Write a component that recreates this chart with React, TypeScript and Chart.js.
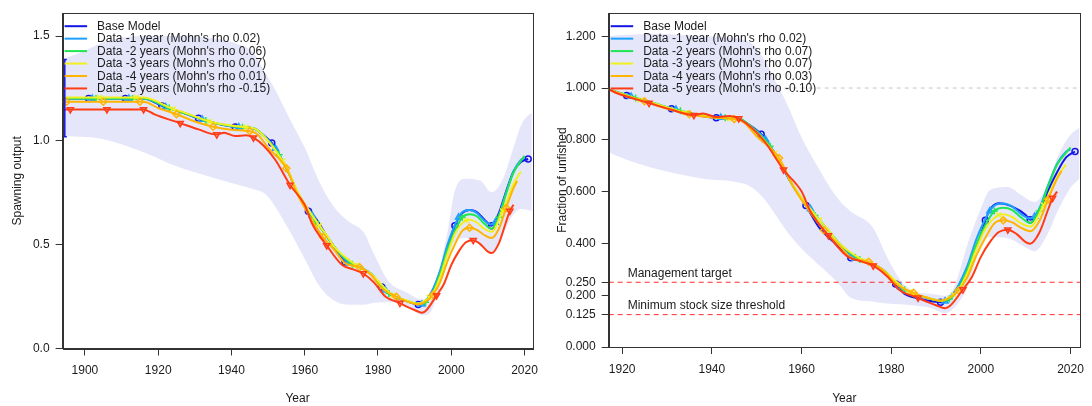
import React, { useEffect, useRef } from "react";
import { Chart, registerables } from "chart.js";
Chart.register(...registerables);

// ---------- colours & labels ----------
const SERIES_COLORS = ["#1414E6", "#1EA0FF", "#1EE650", "#F0F01E", "#FFB400", "#FF3C14"];
const SERIES_POINT_STYLES = ["circle", "triangle", "cross", "crossRot", "rectRot", "triangle"];
const SERIES_POINT_ROTATIONS = [0, 0, 0, 0, 0, 180];
const SERIES_POINT_RADII = [3, 3.5, 3.5, 3.5, 3.5, 3.5];
const LEFT_LEGEND = [
  "Base Model",
  "Data -1 year (Mohn's rho 0.02)",
  "Data -2 years (Mohn's rho 0.06)",
  "Data -3 years (Mohn's rho 0.07)",
  "Data -4 years (Mohn's rho 0.01)",
  "Data -5 years (Mohn's rho -0.15)",
];
const RIGHT_LEGEND = [
  "Base Model",
  "Data -1 year (Mohn's rho 0.02)",
  "Data -2 years (Mohn's rho 0.07)",
  "Data -3 years (Mohn's rho 0.07)",
  "Data -4 years (Mohn's rho 0.03)",
  "Data -5 years (Mohn's rho -0.10)",
];
const BAND_COLOR = "#E6E6FB";

// ---------- axes ----------
const LEFT_X_TICKS = [1900, 1920, 1940, 1960, 1980, 2000, 2020];
const RIGHT_X_TICKS = [1920, 1940, 1960, 1980, 2000, 2020];
const LEFT_Y_TICKS = [0, 0.5, 1.0, 1.5];
const LEFT_Y_LABELS = ["0.0", "0.5", "1.0", "1.5"];
const RIGHT_Y_TICKS = [0, 0.125, 0.2, 0.25, 0.4, 0.6, 0.8, 1.0, 1.2];
const RIGHT_Y_LABELS = ["0.000", "0.125", "0.200", "0.250", "0.400", "0.600", "0.800", "1.000", "1.200"];

// ---------- left panel: spawning output ----------
const L_BASE_YEARS = [1894, 1901, 1911, 1916, 1921, 1926, 1931, 1936, 1941, 1946,
  1948, 1951, 1953, 1956, 1958, 1961, 1963, 1966, 1968, 1971,
  1973, 1975, 1978, 1981, 1983, 1985, 1988, 1991, 1993, 1995,
  1997, 1999, 2001, 2003, 2005, 2007, 2009, 2011, 2013, 2015,
  2017, 2019, 2021];
const L_BASE_VALUES = [1.20, 1.20, 1.20, 1.20, 1.165, 1.137, 1.105, 1.08, 1.064, 1.058,
  1.035, 0.987, 0.93, 0.83, 0.75, 0.659, 0.625, 0.54, 0.49, 0.415,
  0.405, 0.391, 0.36, 0.295, 0.264, 0.245, 0.227, 0.211, 0.225, 0.28,
  0.37, 0.49, 0.59, 0.65, 0.665, 0.655, 0.62, 0.59, 0.65, 0.755,
  0.85, 0.895, 0.91];
const L_BASE_MARKERS = [1901, 1911, 1921, 1931, 1941, 1951, 1961, 1971, 1981, 1991, 2001, 2011, 2021];

const L_R1_YEARS = [1894, 1902, 1912, 1916, 1922, 1926, 1932, 1936, 1942, 1946,
  1948, 1952, 1956, 1958, 1962, 1966, 1968, 1972, 1975, 1978,
  1982, 1985, 1988, 1992, 1993, 1995, 1997, 1999, 2002, 2003,
  2005, 2007, 2009, 2011, 2012, 2013, 2015, 2017, 2019, 2020];
const L_R1_VALUES = [1.20, 1.20, 1.20, 1.20, 1.16, 1.137, 1.10, 1.08, 1.063, 1.058,
  1.035, 0.96, 0.83, 0.75, 0.64, 0.54, 0.49, 0.41, 0.391, 0.36,
  0.28, 0.245, 0.227, 0.212, 0.228, 0.285, 0.375, 0.50, 0.63, 0.655,
  0.665, 0.65, 0.615, 0.595, 0.605, 0.64, 0.75, 0.85, 0.905, 0.915];
const L_R1_MARKERS = [1902, 1912, 1922, 1932, 1942, 1952, 1962, 1972, 1982, 1992, 2002, 2012];

const L_R2_YEARS = [1894, 1903, 1913, 1916, 1923, 1926, 1933, 1936, 1943, 1946,
  1948, 1953, 1956, 1958, 1963, 1966, 1968, 1973, 1975, 1978,
  1983, 1985, 1988, 1991, 1993, 1995, 1997, 1999, 2001, 2003,
  2005, 2007, 2009, 2011, 2013, 2015, 2017, 2019, 2020];
const L_R2_VALUES = [1.20, 1.20, 1.20, 1.20, 1.155, 1.137, 1.095, 1.08, 1.062, 1.058,
  1.035, 0.93, 0.83, 0.75, 0.61, 0.54, 0.49, 0.405, 0.391, 0.36,
  0.264, 0.247, 0.228, 0.213, 0.222, 0.27, 0.36, 0.475, 0.565, 0.63,
  0.645, 0.635, 0.60, 0.575, 0.63, 0.745, 0.845, 0.90, 0.925];
const L_R2_MARKERS = [1903, 1913, 1923, 1933, 1943, 1953, 1963, 1973, 1983, 1993, 2003, 2013];

const L_R3_YEARS = [1894, 1904, 1914, 1916, 1924, 1926, 1934, 1936, 1944, 1946,
  1948, 1954, 1956, 1958, 1964, 1966, 1968, 1974, 1978, 1984,
  1988, 1991, 1994, 1995, 1997, 1999, 2001, 2004, 2005, 2007,
  2009, 2011, 2014, 2015, 2017, 2019];
const L_R3_VALUES = [1.205, 1.205, 1.205, 1.205, 1.15, 1.14, 1.09, 1.082, 1.062, 1.058,
  1.035, 0.9, 0.835, 0.755, 0.59, 0.545, 0.49, 0.40, 0.36, 0.255,
  0.23, 0.216, 0.245, 0.265, 0.345, 0.455, 0.55, 0.615, 0.618, 0.605,
  0.575, 0.56, 0.66, 0.70, 0.79, 0.85];
const L_R3_MARKERS = [1904, 1914, 1924, 1934, 1944, 1954, 1964, 1974, 1984, 1994, 2004, 2014];

const L_R4_YEARS = [1894, 1895, 1905, 1915, 1916, 1920, 1925, 1930, 1935, 1940,
  1945, 1947, 1950, 1955, 1958, 1961, 1965, 1968, 1971, 1975,
  1978, 1981, 1985, 1988, 1991, 1993, 1995, 1997, 1999, 2001,
  2003, 2005, 2007, 2009, 2011, 2013, 2015, 2017, 2018];
const L_R4_VALUES = [1.185, 1.185, 1.185, 1.185, 1.185, 1.155, 1.125, 1.09, 1.065, 1.05,
  1.043, 1.03, 0.965, 0.865, 0.74, 0.645, 0.535, 0.475, 0.41, 0.39,
  0.355, 0.29, 0.248, 0.225, 0.212, 0.225, 0.258, 0.32, 0.42, 0.5,
  0.565, 0.58, 0.57, 0.545, 0.53, 0.575, 0.675, 0.77, 0.805];
const L_R4_MARKERS = [1895, 1905, 1915, 1925, 1935, 1945, 1955, 1965, 1975, 1985, 1995, 2005, 2015];

const L_R5_YEARS = [1894, 1896, 1906, 1916, 1919, 1926, 1931, 1936, 1938, 1941,
  1944, 1946, 1949, 1952, 1956, 1960, 1962, 1966, 1970, 1974,
  1976, 1979, 1982, 1986, 1988, 1990, 1992, 1993, 1996, 1998,
  2000, 2002, 2004, 2006, 2008, 2010, 2011, 2013, 2015, 2016,
  2017];
const L_R5_VALUES = [1.148, 1.148, 1.148, 1.148, 1.124, 1.082, 1.052, 1.027, 1.036, 1.02,
  1.024, 1.012, 0.97, 0.905, 0.785, 0.69, 0.60, 0.495, 0.405, 0.375,
  0.36, 0.315, 0.25, 0.218, 0.2, 0.185, 0.172, 0.18, 0.255, 0.31,
  0.40, 0.465, 0.51, 0.52, 0.50, 0.465, 0.458, 0.505, 0.61, 0.66,
  0.69];
const L_R5_MARKERS = [1896, 1906, 1916, 1926, 1936, 1946, 1956, 1966, 1976, 1986, 1996, 2006, 2016];

const L_BAND_YEARS = [1894, 1900, 1905, 1915, 1925, 1935, 1942, 1946, 1949, 1952,
  1956, 1960, 1964, 1968, 1972, 1976, 1979, 1983, 1988, 1992,
  1994, 1996, 1999, 2001, 2004, 2008, 2011, 2014, 2017, 2019,
  2021, 2022];
const L_BAND_UPPER = [1.39, 1.43, 1.47, 1.50, 1.50, 1.49, 1.46, 1.42, 1.33, 1.24,
  1.10, 0.965, 0.80, 0.68, 0.61, 0.56, 0.45, 0.32, 0.268, 0.235,
  0.255, 0.34, 0.56, 0.76, 0.815, 0.805, 0.75, 0.81, 0.965, 1.07,
  1.12, 1.13];
const L_BAND_LOWER = [1.02, 1.015, 1.005, 0.95, 0.875, 0.82, 0.785, 0.765, 0.745, 0.68,
  0.56, 0.43, 0.30, 0.23, 0.21, 0.21, 0.22, 0.222, 0.2, 0.16,
  0.168, 0.245, 0.42, 0.51, 0.53, 0.495, 0.455, 0.545, 0.645, 0.67,
  0.665, 0.66];

const L_VIRGIN_YEAR = 1894.5;
const L_VIRGIN_LOW = 1.017;
const L_VIRGIN_HIGH = 1.388;

// ---------- right panel: fraction of unfished ----------
const R_BASE_YEARS = [1917, 1921, 1926, 1931, 1936, 1941, 1946, 1948, 1951, 1953,
  1955, 1957, 1961, 1964, 1967, 1971, 1974, 1977, 1979, 1981,
  1983, 1985, 1988, 1991, 1993, 1995, 1998, 2000, 2001, 2002,
  2004, 2007, 2010, 2011, 2013, 2015, 2017, 2019, 2021];
const R_BASE_VALUES = [0.995, 0.971, 0.943, 0.92, 0.898, 0.885, 0.879, 0.862, 0.822, 0.776,
  0.72, 0.655, 0.546, 0.46, 0.408, 0.345, 0.33, 0.31, 0.28, 0.243,
  0.205, 0.192, 0.18, 0.173, 0.185, 0.235, 0.35, 0.434, 0.489, 0.53,
  0.555, 0.542, 0.51, 0.491, 0.523, 0.605, 0.675, 0.732, 0.755];
const R_BASE_MARKERS = [1921, 1931, 1941, 1951, 1961, 1971, 1981, 1991, 2001, 2011, 2021];

const R_R1_YEARS = [1917, 1922, 1926, 1932, 1936, 1942, 1946, 1948, 1952, 1956,
  1958, 1962, 1966, 1968, 1972, 1975, 1978, 1982, 1985, 1988,
  1992, 1993, 1995, 1997, 1999, 2002, 2003, 2005, 2007, 2009,
  2011, 2012, 2013, 2015, 2017, 2019, 2020];
const R_R1_VALUES = [0.995, 0.967, 0.947, 0.917, 0.9, 0.886, 0.882, 0.862, 0.8, 0.692,
  0.625, 0.533, 0.45, 0.408, 0.342, 0.326, 0.3, 0.233, 0.204, 0.189,
  0.177, 0.19, 0.238, 0.313, 0.417, 0.525, 0.546, 0.554, 0.542, 0.513,
  0.496, 0.504, 0.533, 0.625, 0.708, 0.754, 0.763];
const R_R1_MARKERS = [1922, 1932, 1942, 1952, 1962, 1972, 1982, 1992, 2002, 2012];

const R_R2_YEARS = [1917, 1923, 1926, 1933, 1936, 1943, 1946, 1948, 1953, 1956,
  1958, 1963, 1966, 1968, 1973, 1975, 1978, 1983, 1985, 1988,
  1991, 1993, 1995, 1997, 1999, 2001, 2003, 2005, 2007, 2009,
  2011, 2013, 2015, 2017, 2019, 2020];
const R_R2_VALUES = [0.995, 0.962, 0.947, 0.912, 0.9, 0.885, 0.882, 0.862, 0.775, 0.692,
  0.625, 0.508, 0.45, 0.408, 0.338, 0.326, 0.3, 0.221, 0.206, 0.19,
  0.178, 0.185, 0.225, 0.3, 0.396, 0.471, 0.525, 0.538, 0.529, 0.5,
  0.479, 0.525, 0.621, 0.704, 0.75, 0.771];
const R_R2_MARKERS = [1923, 1933, 1943, 1953, 1963, 1973, 1983, 1993, 2003, 2013];

const R_R3_YEARS = [1917, 1924, 1926, 1934, 1936, 1944, 1946, 1948, 1954, 1956,
  1958, 1964, 1966, 1968, 1974, 1978, 1984, 1988, 1991, 1994,
  1995, 1997, 1999, 2001, 2004, 2005, 2007, 2009, 2011, 2014,
  2015, 2017, 2019];
const R_R3_VALUES = [0.995, 0.954, 0.946, 0.905, 0.898, 0.881, 0.878, 0.859, 0.747, 0.693,
  0.627, 0.49, 0.452, 0.407, 0.332, 0.299, 0.212, 0.191, 0.179, 0.203,
  0.22, 0.286, 0.378, 0.456, 0.51, 0.513, 0.502, 0.477, 0.465, 0.548,
  0.581, 0.656, 0.705];
const R_R3_MARKERS = [1924, 1934, 1944, 1954, 1964, 1974, 1984, 1994, 2004, 2014];

const R_R4_YEARS = [1917, 1920, 1925, 1930, 1935, 1940, 1945, 1947, 1950, 1955,
  1958, 1961, 1965, 1968, 1971, 1975, 1978, 1981, 1985, 1988,
  1991, 1993, 1995, 1997, 1999, 2001, 2003, 2005, 2007, 2009,
  2011, 2013, 2015, 2017, 2018];
const R_R4_VALUES = [0.995, 0.975, 0.949, 0.92, 0.899, 0.886, 0.88, 0.869, 0.814, 0.73,
  0.624, 0.544, 0.451, 0.401, 0.346, 0.329, 0.3, 0.245, 0.209, 0.19,
  0.179, 0.19, 0.218, 0.27, 0.354, 0.422, 0.477, 0.489, 0.481, 0.46,
  0.447, 0.485, 0.57, 0.65, 0.68];
const R_R4_MARKERS = [1925, 1935, 1945, 1955, 1965, 1975, 1985, 1995, 2005, 2015];

const R_R5_YEARS = [1917, 1919, 1926, 1931, 1936, 1938, 1941, 1944, 1946, 1949,
  1952, 1956, 1960, 1962, 1966, 1970, 1974, 1976, 1979, 1982,
  1986, 1988, 1990, 1992, 1993, 1996, 1998, 2000, 2002, 2004,
  2006, 2008, 2010, 2011, 2013, 2015, 2016, 2017];
const R_R5_VALUES = [0.995, 0.979, 0.942, 0.916, 0.895, 0.902, 0.888, 0.892, 0.882, 0.845,
  0.788, 0.684, 0.601, 0.523, 0.431, 0.353, 0.327, 0.314, 0.274, 0.218,
  0.19, 0.174, 0.161, 0.15, 0.157, 0.222, 0.27, 0.348, 0.405, 0.444,
  0.453, 0.436, 0.405, 0.399, 0.44, 0.531, 0.575, 0.6];
const R_R5_MARKERS = [1926, 1936, 1946, 1956, 1966, 1976, 1986, 1996, 2006, 2016];

const R_BAND_YEARS = [1917, 1920, 1927, 1938, 1946, 1949, 1952, 1955, 1957, 1960,
  1963, 1968, 1971, 1976, 1979, 1982, 1985, 1989, 1992, 1994,
  1997, 2000, 2002, 2006, 2009, 2012, 2015, 2017, 2020, 2022];
const R_BAND_UPPER = [1.2, 1.205, 1.21, 1.2, 1.19, 1.17, 1.1, 1.0, 0.93, 0.81,
  0.714, 0.575, 0.523, 0.46, 0.35, 0.26, 0.215, 0.205, 0.198, 0.23,
  0.396, 0.535, 0.606, 0.618, 0.587, 0.56, 0.63, 0.73, 0.82, 0.847];
const R_BAND_LOWER = [0.752, 0.73, 0.69, 0.65, 0.635, 0.615, 0.565, 0.49, 0.44, 0.38,
  0.33, 0.25, 0.19, 0.175, 0.168, 0.165, 0.16, 0.15, 0.13, 0.152,
  0.23, 0.39, 0.425, 0.42, 0.395, 0.37, 0.44, 0.52, 0.615, 0.65];

const R_REF_UNFISHED = 1.0;
const R_REF_TARGET = 0.25;
const R_REF_MSST = 0.125;
const R_TARGET_LABEL = "Management target";
const R_MSST_LABEL = "Minimum stock size threshold";

// ---------- helpers ----------
const FONT = "'Liberation Sans', Arial, sans-serif";
const TEXT_COLOR = "#1a1a1a";
const AXIS_COLOR = "#333333";

const toXY = (xs: number[], ys: number[]) => xs.map((x, i) => ({ x, y: ys[i] }));

type Series = { years: number[]; values: number[]; markers: number[] };

function seriesDatasets(list: Series[], legend: string[]) {
  return list.map((s, i) => ({
    type: "line" as const,
    label: legend[i],
    data: toXY(s.years, s.values),
    borderColor: SERIES_COLORS[i],
    borderWidth: 2,
    fill: false,
    cubicInterpolationMode: "monotone" as const,
    pointStyle: SERIES_POINT_STYLES[i],
    pointRotation: SERIES_POINT_ROTATIONS[i],
    pointRadius: (ctx: any) => (ctx.raw && s.markers.includes(ctx.raw.x) ? SERIES_POINT_RADII[i] : 0),
    pointBorderColor: SERIES_COLORS[i],
    pointBackgroundColor: "rgba(0,0,0,0)",
    pointBorderWidth: 1.5,
    order: 6 - i,
  }));
}

function bandDatasets(years: number[], upper: number[], lower: number[]) {
  return [
    {
      type: "line" as const,
      label: "band-upper",
      data: toXY(years, upper),
      borderColor: "rgba(0,0,0,0)",
      borderWidth: 0,
      pointRadius: 0,
      fill: "+1",
      backgroundColor: BAND_COLOR,
      cubicInterpolationMode: "monotone" as const,
      order: 20,
    },
    {
      type: "line" as const,
      label: "band-lower",
      data: toXY(years, lower),
      borderColor: "rgba(0,0,0,0)",
      borderWidth: 0,
      pointRadius: 0,
      fill: false,
      cubicInterpolationMode: "monotone" as const,
      order: 21,
    },
  ];
}

function overlayPlugin(legend: string[], notes: { text: string; value: number; dy: number }[]) {
  return {
    id: "overlay",
    afterDatasetsDraw(chart: any) {
      const { ctx, chartArea: a } = chart;
      ctx.save();
      ctx.font = `12px ${FONT}`;
      ctx.textBaseline = "middle";
      ctx.textAlign = "left";
      legend.forEach((t, i) => {
        const y = a.top + 13 + i * 12.45;
        ctx.strokeStyle = SERIES_COLORS[i];
        ctx.lineWidth = 2;
        ctx.beginPath();
        ctx.moveTo(a.left + 2, y);
        ctx.lineTo(a.left + 24.5, y);
        ctx.stroke();
        ctx.fillStyle = TEXT_COLOR;
        ctx.fillText(t, a.left + 34.5, y + 0.5);
      });
      const ys = chart.scales.y;
      notes.forEach((n) => {
        ctx.fillStyle = TEXT_COLOR;
        ctx.fillText(n.text, a.left + 19, ys.getPixelForValue(n.value) + n.dy);
      });
      ctx.restore();
    },
    afterDraw(chart: any) {
      const { ctx, chartArea: a } = chart;
      ctx.save();
      ctx.strokeStyle = AXIS_COLOR;
      ctx.lineWidth = 1;
      const l = Math.round(a.left) + 0.5;
      const t = Math.round(a.top) + 0.5;
      const r = Math.round(a.right) + 0.5;
      const b = Math.round(a.bottom) + 0.5;
      ctx.strokeRect(l, t, r - l, b - t);
      ctx.restore();
    },
  };
}

type PanelSpec = {
  datasets: any[];
  xMin: number;
  xMax: number;
  yMax: number;
  xTicks: number[];
  yTicks: number[];
  yLabels: string[];
  yTitle: string;
  yTitlePad: number;
  yAxisWidth: number;
  xAxisHeight: number;
  padTop: number;
  padRight: number;
  plugin: any;
};

function buildConfig(p: PanelSpec): any {
  const tickFont = { family: FONT, size: 12 };
  return {
    type: "line",
    data: { datasets: p.datasets },
    plugins: [p.plugin],
    options: {
      animation: false,
      responsive: false,
      events: [],
      layout: { padding: { left: 0, right: p.padRight, top: p.padTop, bottom: 0 } },
      plugins: { legend: { display: false }, tooltip: { enabled: false } },
      scales: {
        x: {
          type: "linear",
          min: p.xMin,
          max: p.xMax,
          afterBuildTicks: (s: any) => {
            s.ticks = p.xTicks.map((v) => ({ value: v }));
          },
          afterFit: (s: any) => {
            s.height = p.xAxisHeight;
          },
          ticks: {
            color: TEXT_COLOR,
            font: tickFont,
            padding: 8,
            maxRotation: 0,
            autoSkip: false,
            callback: (v: any) => String(v),
          },
          grid: { drawOnChartArea: false, drawTicks: true, tickLength: 7, color: AXIS_COLOR, tickColor: AXIS_COLOR },
          border: { display: true, color: AXIS_COLOR },
          title: { display: true, text: "Year", color: TEXT_COLOR, font: tickFont, padding: { top: 1, bottom: 0 } },
        },
        y: {
          type: "linear",
          min: 0,
          max: p.yMax,
          afterBuildTicks: (s: any) => {
            s.ticks = p.yTicks.map((v) => ({ value: v }));
          },
          afterFit: (s: any) => {
            s.width = p.yAxisWidth;
          },
          ticks: {
            color: TEXT_COLOR,
            font: tickFont,
            padding: 6,
            autoSkip: false,
            callback: (_v: any, i: number) => p.yLabels[i],
          },
          grid: { drawOnChartArea: false, drawTicks: true, tickLength: 7, color: AXIS_COLOR, tickColor: AXIS_COLOR },
          border: { display: true, color: AXIS_COLOR },
          title: { display: true, text: p.yTitle, color: TEXT_COLOR, font: tickFont, padding: { top: p.yTitlePad, bottom: 0 } },
        },
      },
    },
  };
}

function leftSpec(): PanelSpec {
  const series: Series[] = [
    { years: L_BASE_YEARS, values: L_BASE_VALUES, markers: L_BASE_MARKERS },
    { years: L_R1_YEARS, values: L_R1_VALUES, markers: L_R1_MARKERS },
    { years: L_R2_YEARS, values: L_R2_VALUES, markers: L_R2_MARKERS },
    { years: L_R3_YEARS, values: L_R3_VALUES, markers: L_R3_MARKERS },
    { years: L_R4_YEARS, values: L_R4_VALUES, markers: L_R4_MARKERS },
    { years: L_R5_YEARS, values: L_R5_VALUES, markers: L_R5_MARKERS },
  ];
  const virgin = {
    type: "line" as const,
    label: "virgin",
    data: [
      { x: L_VIRGIN_YEAR, y: L_VIRGIN_LOW },
      { x: L_VIRGIN_YEAR, y: L_VIRGIN_HIGH },
    ],
    borderColor: SERIES_COLORS[0],
    borderWidth: 1.5,
    pointStyle: "line",
    pointRadius: 2,
    pointBorderColor: SERIES_COLORS[0],
    pointBorderWidth: 1.5,
    fill: false,
    order: 0,
  };
  return {
    datasets: [...bandDatasets(L_BAND_YEARS, L_BAND_UPPER, L_BAND_LOWER), ...seriesDatasets(series, LEFT_LEGEND), virgin],
    xMin: 1893.9,
    xMax: 2022.2,
    yMax: 1.61,
    xTicks: LEFT_X_TICKS,
    yTicks: LEFT_Y_TICKS,
    yLabels: LEFT_Y_LABELS,
    yTitle: "Spawning output",
    yTitlePad: 10,
    yAxisWidth: 62.6,
    xAxisHeight: 406 - 348.5,
    padTop: 11.7,
    padRight: 546 - 537.2,
    plugin: overlayPlugin(LEFT_LEGEND, []),
  };
}

function rightSpec(): PanelSpec {
  const series: Series[] = [
    { years: R_BASE_YEARS, values: R_BASE_VALUES, markers: R_BASE_MARKERS },
    { years: R_R1_YEARS, values: R_R1_VALUES, markers: R_R1_MARKERS },
    { years: R_R2_YEARS, values: R_R2_VALUES, markers: R_R2_MARKERS },
    { years: R_R3_YEARS, values: R_R3_VALUES, markers: R_R3_MARKERS },
    { years: R_R4_YEARS, values: R_R4_VALUES, markers: R_R4_MARKERS },
    { years: R_R5_YEARS, values: R_R5_VALUES, markers: R_R5_MARKERS },
  ];
  const xMin = 1917;
  const xMax = 2022.1;
  const refLine = (v: number, color: string, dash: number[], order: number) => ({
    type: "line" as const,
    label: "ref",
    data: [
      { x: xMin, y: v },
      { x: xMax, y: v },
    ],
    borderColor: color,
    borderWidth: 1,
    borderDash: dash,
    pointRadius: 0,
    fill: false,
    order,
  });
  return {
    datasets: [
      ...bandDatasets(R_BAND_YEARS, R_BAND_UPPER, R_BAND_LOWER),
      ...seriesDatasets(series, RIGHT_LEGEND),
      refLine(R_REF_UNFISHED, "#C8C8C8", [4, 4], 30),
      refLine(R_REF_TARGET, "#FF2A2A", [5, 4], 10),
      refLine(R_REF_MSST, "#FF2A2A", [5, 4], 10),
    ],
    xMin,
    xMax,
    yMax: 1.289,
    xTicks: RIGHT_X_TICKS,
    yTicks: RIGHT_Y_TICKS,
    yLabels: RIGHT_Y_LABELS,
    yTitle: "Fraction of unfished",
    yTitlePad: 9,
    yAxisWidth: 62.7,
    xAxisHeight: 406 - 347,
    padTop: 9.3,
    padRight: 546 - 541.3,
    plugin: overlayPlugin(RIGHT_LEGEND, [
      { text: R_TARGET_LABEL, value: R_REF_TARGET, dy: -9 },
      { text: R_MSST_LABEL, value: R_REF_MSST, dy: -8.5 },
    ]),
  };
}

function Panel({ spec, left }: { spec: () => PanelSpec; left: number }) {
  const ref = useRef<HTMLCanvasElement | null>(null);
  useEffect(() => {
    if (!ref.current) return;
    const chart = new Chart(ref.current, buildConfig(spec()));
    return () => chart.destroy();
  }, []);
  return (
    <div style={{ position: "absolute", left, top: 0, width: 546, height: 406 }}>
      <canvas ref={ref} width={546} height={406} style={{ display: "block" }} />
    </div>
  );
}

export default function App() {
  return (
    <div style={{ position: "fixed", left: 0, top: 0, width: 1092, height: 406, background: "#ffffff", overflow: "hidden" }}>
      <Panel spec={leftSpec} left={0} />
      <Panel spec={rightSpec} left={546} />
    </div>
  );
}
